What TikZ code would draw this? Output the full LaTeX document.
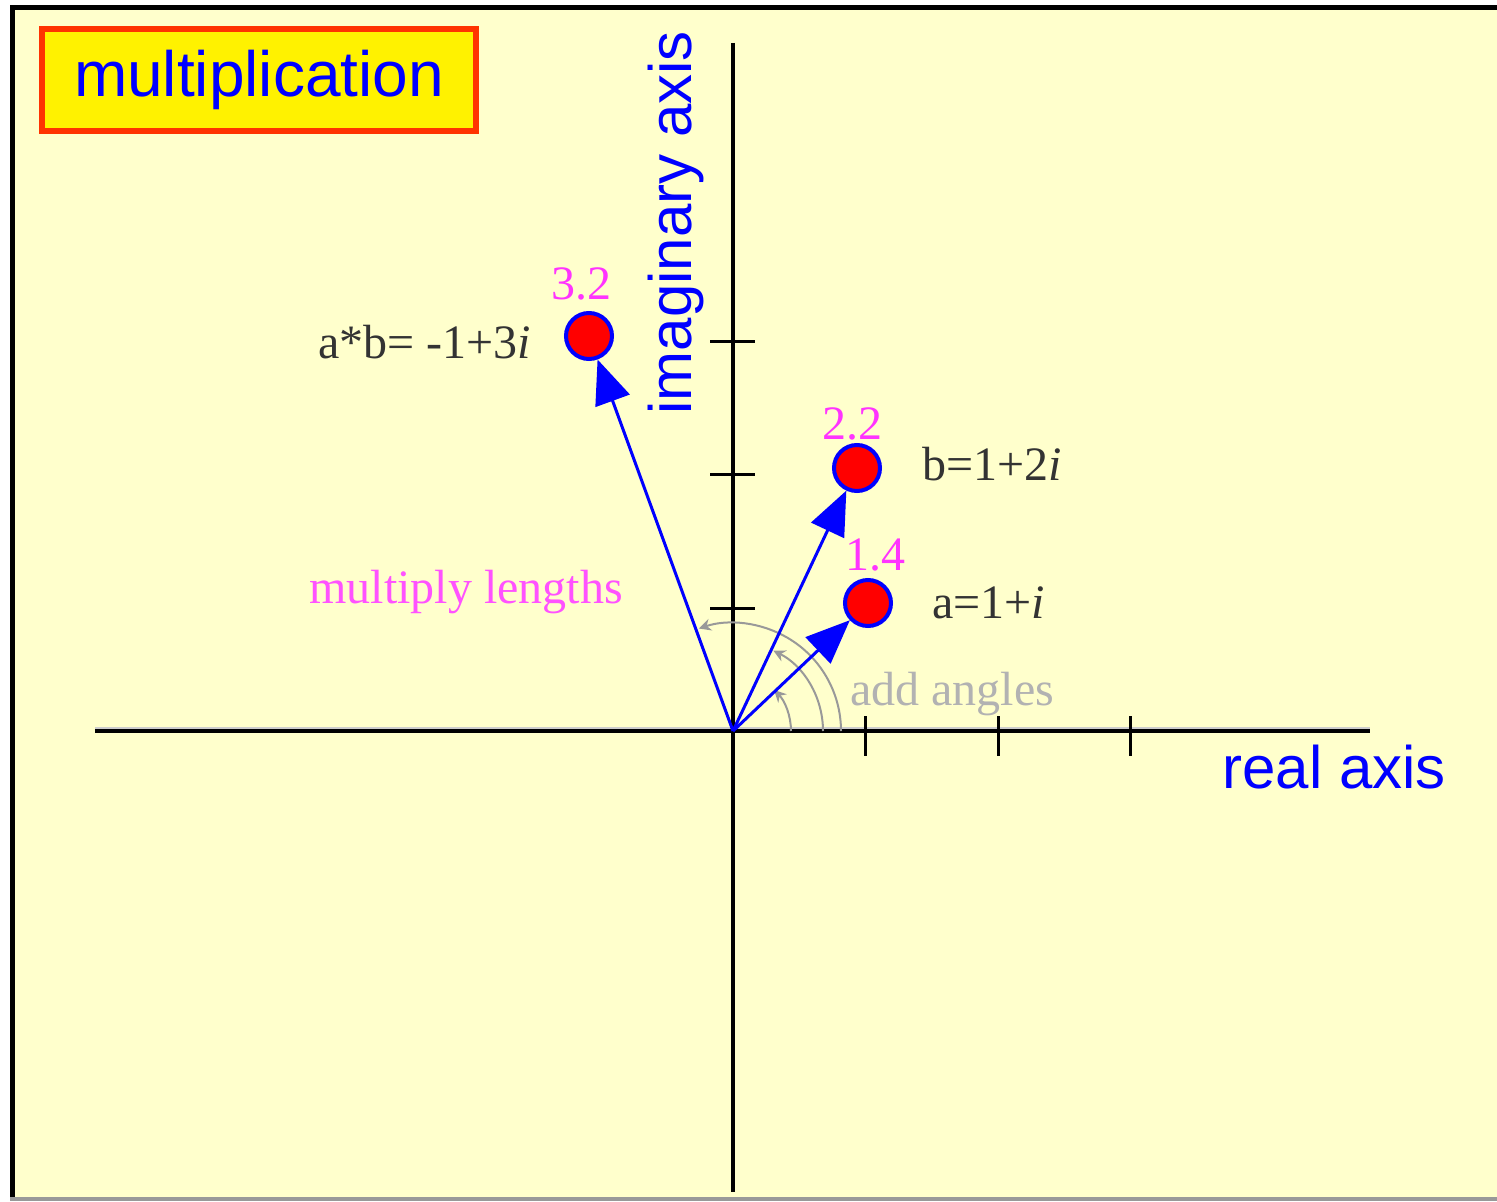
\documentclass[tikz,border=0pt]{standalone}
\usepackage{fontspec}
\setmainfont{Liberation Serif}
\setsansfont{Liberation Sans}
\usetikzlibrary{arrows.meta}
\definecolor{paper}{HTML}{FFFFCC}
\definecolor{vecblue}{HTML}{0000FF}
\definecolor{lblpink}{HTML}{FF33FF}
\definecolor{lblgray}{HTML}{333333}
\definecolor{anglegray}{HTML}{999999}
\definecolor{boxred}{HTML}{FF3300}

\begin{document}
\begin{tikzpicture}[x=0.5pt,y=0.5pt,
    dot/.style={circle,draw=vecblue,line width=2pt,fill=red,minimum size=23pt,inner sep=0pt},
    vec/.style={vecblue,line width=1.5pt,-{Triangle[length=22pt,width=18pt]}},
    tck/.style={line width=1.5pt},
    turn/.style={anglegray,line width=1pt,-{Stealth[length=6pt,width=6pt]}},
    lbl/.style={anchor=base west,inner sep=0pt,font=\fontsize{24}{24}\selectfont},
    sanslbl/.style={anchor=base west,inner sep=0pt,text=vecblue,font=\sffamily\fontsize{30}{30}\selectfont}]
    \useasboundingbox (-733,-470) rectangle (764,731);
    % frame
    \fill[white] (-733,-470) rectangle (764,731);
    \fill[paper] (-718,-466) rectangle (764,721);
    \fill[black] (-723,721) rectangle (764,726);
    \fill[black] (-723,-466) rectangle (-718,726);
    \fill[gray!80] (-723,-470) rectangle (764,-466);
    % axes and ticks
    \coordinate (o) at (0,0);
    \draw[gray!40,line width=1pt] (-638,3) -- (637,3);
    \draw[line width=1.75pt] (-638,0) -- (637,0);
    \draw[line width=1.75pt] (0,688) -- (0,-461);
    \foreach \t in {132,265,397} \draw[tck] (\t,15) -- (\t,-25);
    \foreach \t in {123,257,390} \draw[tck] (-23,\t) -- (22,\t);
    \node[sanslbl] (re) at (489,-57) {real axis};
    \node[sanslbl,rotate=90] (im) at (-42,316) {imaginary axis};
    % angles
    \draw[turn] (58,0) arc[start angle=0,end angle=45,radius=58];
    \draw[turn] (90,0) arc[start angle=0,end angle=63.4,radius=90];
    \draw[turn] (108,0) arc[start angle=0,end angle=108.4,radius=108];
    % numbers
    \node[dot] (a) at (135,128) {};
    \node[dot] (b) at (124,263) {};
    \node[dot] (ab) at (-144,395) {};
    \draw[vec] (o) -- (a);
    \draw[vec] (o) -- (b);
    \draw[vec] (o) -- (ab);
    \node[lbl,text=lblpink] (ablen) at (-182,432) {3.2};
    \node[lbl,text=lblpink] (blen) at (89,292) {2.2};
    \node[lbl,text=lblpink] (alen) at (112,161) {1.4};
    \node[lbl,text=lblgray] (abname) at (-415,373) {a*b= -1+3\textit{i}};
    \node[lbl,text=lblgray] (bname) at (189,251) {b=1+2\textit{i}};
    \node[lbl,text=lblgray] (aname) at (199,113) {a=1+\textit{i}};
    \node[lbl,text=lblpink!85!white] (mult) at (-424,128) {multiply lengths};
    \node[lbl,text=gray!60] (add) at (117,26) {add angles};
    % title
    \node[draw=boxred,line width=3pt,fill=yellow,minimum width=217pt,minimum height=51pt,
        inner sep=0pt,text=vecblue,font=\sffamily\fontsize{32}{32}\selectfont] (title) at (-474,651) {multiplication};
\end{tikzpicture}
\end{document}
